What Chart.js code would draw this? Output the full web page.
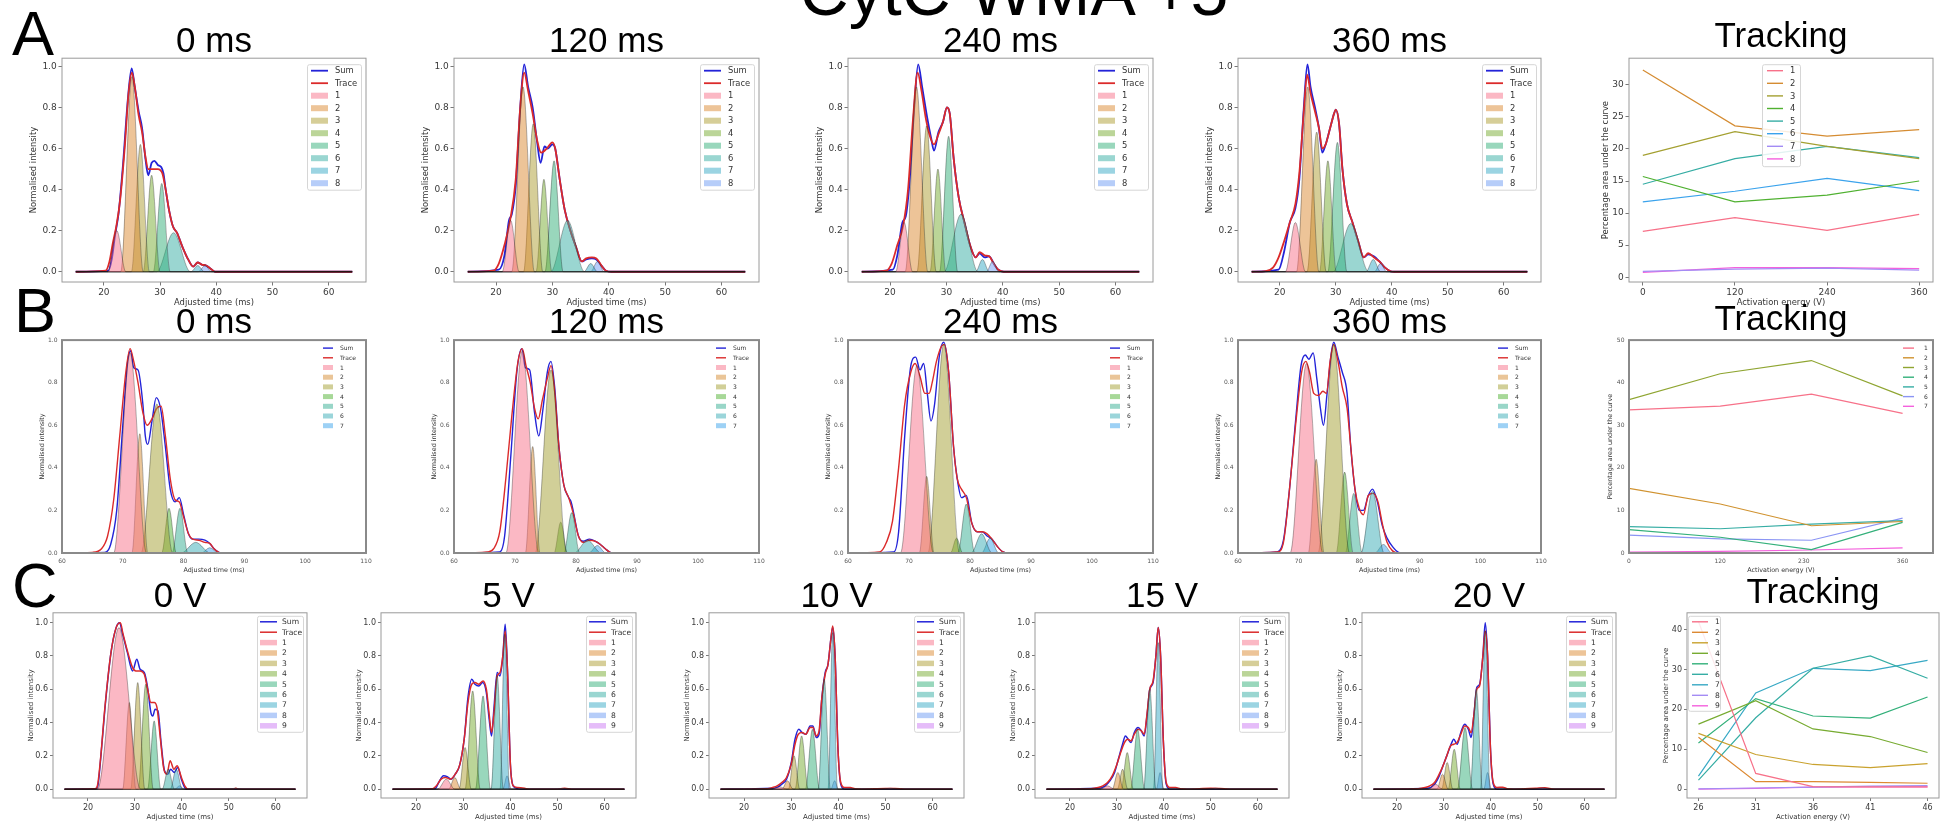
<!DOCTYPE html>
<html>
<head>
<meta charset="utf-8">
<script src="https://cdn.jsdelivr.net/npm/chart.js@4.4.0/dist/chart.umd.min.js"></script>
<style>
  body { margin: 0; background: #fff; width: 1948px; height: 824px; overflow: hidden; position: relative; }
  canvas { position: absolute; }
  svg.labels { position: absolute; left: 0; top: 0; pointer-events: none; }
</style>
</head>
<body>
<script>
// ---- palettes ----
const HUSL9 = ['#f77189', '#dc8932', '#ae9d31', '#77ab31', '#33b07a', '#36ada4', '#38a9c5', '#6e9bf4', '#cc7af4'];
const HUSL8 = ['#f77189', '#d58c32', '#a4a031', '#50b131', '#34ae91', '#37abb5', '#3ba3ec', '#bb83f4'];
const TRACK_A_COLORS = ['#f77189', '#d58c32', '#a4a031', '#50b131', '#36ada4', '#3ba3ec', '#a38cf4', '#f461dd'];
const TRACK_B_COLORS = ['#f77189', '#d0922f', '#8fa531', '#33b07a', '#36ada4', '#8b95f4', '#f461dd'];
const TRACK_C_COLORS = ['#f77189', '#dc8932', '#c9a22e', '#77ab31', '#33b07a', '#36ada4', '#38a9c5', '#a48cf4', '#f461dd'];
const SUM_COLOR = '#2323d8';
const TRACE_COLOR = '#db2a2a';

// ---- axis ranges and ticks ----
const RANGE_AC = [15, 64.2];
const RANGE_B = [60, 110];
const XTICKS_AC = [20, 30, 40, 50, 60];
const XTICKS_B = [60, 70, 80, 90, 100, 110];
const YTICKS_NORM = [0, 0.2, 0.4, 0.6, 0.8, 1.0];

const TITLES_A = ['0 ms', '120 ms', '240 ms', '360 ms'];
const TITLES_B = ['0 ms', '120 ms', '240 ms', '360 ms'];
const TITLES_C = ['0 V', '5 V', '10 V', '15 V', '20 V'];

// ---- fitted components: [centre, height, half-width] ----
const PEAKS_A0 = [[22.3,0.2,1.6],[25.0,0.95,2.0],[26.5,0.62,1.6],[28.5,0.47,1.5],[30.3,0.43,1.5],[32.4,0.19,3.0],[36.7,0.03,1.2],[38.0,0.03,1.2]];
const PEAKS_A1 = [[22.6,0.25,1.5],[24.8,0.9,2.0],[26.6,0.72,1.7],[28.5,0.45,1.4],[30.3,0.54,1.6],[32.7,0.25,3.0],[36.8,0.04,1.2],[38.0,0.05,1.2]];
const PEAKS_A2 = [[22.5,0.24,1.5],[24.7,0.9,2.0],[26.5,0.71,1.7],[28.5,0.5,1.4],[30.4,0.66,1.6],[32.6,0.28,3.0],[36.4,0.06,1.2],[38.2,0.05,1.1]];
const PEAKS_A3 = [[22.8,0.24,1.8],[25.0,0.9,2.0],[26.6,0.68,1.7],[28.6,0.54,1.5],[30.3,0.63,1.7],[32.7,0.235,3.2],[36.7,0.06,1.3],[38.0,0.04,1.1]];

const PEAKS_B0 = [[71.2,0.94,2.7],[72.8,0.56,1.3],[75.6,0.70,2.6],[77.6,0.21,1.2],[79.4,0.21,1.3],[82.0,0.05,2.4],[84.3,0.025,1.4]];
const PEAKS_B1 = [[71.2,0.95,2.7],[72.9,0.5,1.2],[75.9,0.86,2.6],[77.5,0.145,1.1],[79.3,0.19,1.3],[81.9,0.06,2.2],[83.5,0.035,1.4]];
const PEAKS_B2 = [[71.3,0.88,2.7],[72.9,0.36,1.2],[75.7,0.98,2.6],[77.8,0.07,1.0],[79.4,0.23,1.4],[81.9,0.09,1.7],[83.3,0.07,1.4]];
const PEAKS_B3 = [[71.3,0.89,2.7],[72.9,0.44,1.3],[75.8,0.98,2.6],[77.6,0.38,1.4],[79.1,0.28,1.4],[82.2,0.29,1.9],[84.0,0.04,1.4]];

const PEAKS_C0 = [[26.6,0.97,4.6],[28.8,0.52,1.4],[30.6,0.64,1.5],[32.3,0.63,1.6],[34.1,0.41,1.4],[37.1,0.12,1.3],[38.8,0.12,1.3],[39.5,0.02,1.0],[51.4,0.006,1.5]];
const PEAKS_C1 = [[26.4,0.06,1.8],[28.2,0.07,1.3],[30.4,0.25,1.3],[32.0,0.59,1.6],[34.2,0.56,1.6],[37.2,0.68,1.3],[38.8,0.93,1.0],[39.3,0.08,0.9],[51.0,0.005,2.0]];
const PEAKS_C2 = [[27.5,0.015,1.5],[29.2,0.05,1.2],[30.6,0.2,1.2],[32.2,0.32,1.4],[34.5,0.36,1.5],[37.0,0.66,1.3],[38.8,0.94,1.0],[39.2,0.05,0.8],[51.0,0.006,2.0]];
const PEAKS_C3 = [[28.0,0.02,1.5],[30.2,0.1,1.2],[31.2,0.12,1.1],[32.2,0.22,1.3],[34.4,0.36,1.5],[37.0,0.6,1.3],[38.8,0.88,1.0],[39.2,0.1,0.8],[51.0,0.006,2.0]];
const PEAKS_C4 = [[28.2,0.03,1.5],[29.7,0.09,1.2],[30.7,0.16,1.2],[32.2,0.24,1.3],[34.5,0.37,1.6],[36.9,0.6,1.3],[38.8,0.95,1.0],[39.3,0.1,0.8],[51.0,0.008,2.0]];

// ---- measured traces and fitted sums: [time, intensity] ----
const TRACE_A0 = [[15,0],[20.3,0.005],[21.0,0.05],[21.6,0.14],[22.2,0.22],[22.9,0.35],[23.7,0.6],[24.4,0.87],[25.0,0.97],[25.5,0.9],[26.2,0.76],[26.8,0.68],[27.4,0.56],[27.9,0.5],[28.7,0.5],[29.6,0.5],[30.4,0.48],[31.0,0.4],[31.6,0.3],[32.3,0.22],[33.0,0.19],[34.0,0.12],[35.0,0.06],[35.9,0.025],[36.7,0.045],[37.4,0.035],[38.2,0.03],[39.0,0.015],[39.8,0],[64.2,0]];
const SUM_A0 = [[15,0],[20.8,0.005],[21.4,0.06],[22.0,0.18],[22.6,0.28],[23.4,0.52],[24.3,0.85],[24.95,0.99],[25.5,0.9],[26.2,0.78],[26.8,0.7],[27.4,0.55],[27.9,0.47],[28.5,0.53],[29.0,0.54],[29.6,0.52],[30.2,0.51],[30.6,0.48],[31.0,0.4],[31.6,0.3],[32.3,0.22],[33.0,0.19],[34.0,0.12],[35.0,0.06],[35.9,0.025],[36.7,0.045],[37.4,0.035],[38.2,0.03],[39.0,0.015],[39.8,0],[64.2,0]];
const TRACE_A1 = [[15,0],[19.5,0.005],[20.5,0.04],[21.5,0.13],[22.5,0.25],[23.5,0.45],[24.3,0.8],[25.0,0.97],[25.7,0.88],[26.5,0.77],[27.3,0.64],[28.0,0.58],[29.0,0.6],[30.0,0.63],[30.5,0.6],[31.3,0.45],[32.2,0.3],[33.2,0.2],[34.2,0.12],[35.2,0.05],[36.0,0.065],[37.0,0.07],[37.8,0.065],[38.7,0.03],[39.5,0.005],[40.5,0],[64.2,0]];
const SUM_A1 = [[15,0],[20.5,0.01],[21.5,0.08],[22.3,0.25],[22.8,0.28],[23.5,0.42],[24.3,0.8],[25.0,1.01],[25.7,0.9],[26.5,0.8],[27.3,0.63],[27.9,0.53],[28.6,0.61],[29.2,0.6],[30.0,0.62],[30.5,0.6],[31.3,0.45],[32.2,0.3],[33.2,0.2],[34.2,0.12],[35.2,0.05],[36.0,0.06],[37.0,0.065],[37.8,0.06],[38.7,0.03],[39.5,0.005],[40.5,0],[64.2,0]];
const TRACE_A2 = [[15,0],[19.3,0.005],[20.3,0.04],[21.3,0.13],[22.3,0.22],[23.2,0.4],[24.1,0.75],[24.9,0.97],[25.6,0.88],[26.4,0.74],[27.2,0.65],[27.8,0.62],[28.6,0.67],[29.4,0.73],[30.1,0.8],[30.6,0.77],[31.3,0.55],[32.2,0.36],[33.2,0.24],[34.2,0.13],[35.2,0.07],[35.9,0.095],[36.8,0.08],[37.6,0.075],[38.4,0.04],[39.2,0.01],[40.2,0],[64.2,0]];
const SUM_A2 = [[15,0],[20.5,0.01],[21.3,0.08],[22.2,0.24],[22.8,0.27],[23.5,0.45],[24.3,0.8],[25.0,1.01],[25.7,0.9],[26.6,0.75],[27.3,0.65],[27.8,0.59],[28.6,0.68],[29.4,0.73],[30.1,0.8],[30.6,0.77],[31.3,0.55],[32.2,0.36],[33.2,0.24],[34.2,0.13],[35.2,0.07],[35.9,0.09],[36.8,0.07],[37.6,0.075],[38.4,0.04],[39.2,0.01],[40.2,0],[64.2,0]];
const TRACE_A3 = [[15,0],[17.5,0.003],[18.8,0.02],[19.8,0.07],[20.8,0.15],[21.8,0.24],[22.8,0.33],[23.5,0.48],[24.3,0.78],[24.9,0.96],[25.5,0.87],[26.3,0.78],[27.0,0.7],[27.6,0.6],[28.2,0.62],[29.0,0.7],[29.7,0.77],[30.0,0.79],[30.6,0.72],[31.2,0.5],[32.0,0.33],[33.0,0.24],[34.0,0.15],[35.0,0.07],[35.8,0.09],[36.8,0.07],[37.8,0.05],[38.8,0.02],[39.8,0.002],[40.5,0],[64.2,0]];
const SUM_A3 = [[15,0],[19.8,0.01],[20.8,0.1],[21.8,0.24],[22.8,0.31],[23.5,0.45],[24.3,0.8],[24.95,1.01],[25.5,0.9],[26.3,0.8],[27.0,0.7],[27.6,0.58],[28.2,0.62],[29.0,0.7],[29.7,0.77],[30.0,0.79],[30.6,0.72],[31.2,0.5],[32.0,0.33],[33.0,0.24],[34.0,0.15],[35.0,0.07],[35.8,0.085],[36.8,0.075],[37.8,0.05],[38.8,0.02],[39.8,0.002],[40.5,0],[64.2,0]];

const TRACE_B0 = [[60,0],[65,0.003],[66.5,0.02],[67.5,0.08],[68.5,0.25],[69.5,0.55],[70.5,0.85],[71.2,0.96],[71.8,0.9],[72.5,0.8],[73.3,0.66],[74.0,0.6],[74.8,0.63],[75.6,0.68],[76.3,0.69],[77.0,0.55],[77.8,0.35],[78.6,0.25],[79.3,0.24],[80.0,0.17],[80.8,0.09],[81.5,0.065],[82.5,0.06],[83.5,0.05],[84.3,0.045],[85.0,0.02],[85.8,0.003],[86.5,0],[110,0]];
const SUM_B0 = [[60,0],[67,0.002],[68,0.04],[69,0.2],[70,0.6],[70.8,0.9],[71.3,0.95],[71.8,0.87],[72.5,0.86],[73.3,0.7],[73.7,0.55],[74.1,0.51],[74.8,0.62],[75.5,0.73],[76.2,0.68],[77.0,0.5],[77.8,0.3],[78.6,0.24],[79.3,0.26],[80.0,0.18],[80.8,0.09],[81.5,0.065],[82.5,0.065],[83.5,0.06],[84.3,0.045],[85.0,0.02],[85.8,0.003],[86.5,0],[110,0]];
const TRACE_B1 = [[60,0],[65.5,0.005],[66.5,0.02],[67.5,0.1],[68.5,0.35],[69.5,0.65],[70.5,0.9],[71.2,0.96],[71.8,0.88],[72.5,0.8],[73.2,0.68],[73.8,0.63],[74.5,0.72],[75.3,0.82],[75.9,0.88],[76.5,0.76],[77.2,0.5],[78.0,0.32],[78.8,0.26],[79.6,0.18],[80.4,0.08],[81.2,0.05],[82.2,0.06],[83.2,0.055],[84.0,0.04],[84.8,0.02],[85.6,0.003],[86.5,0],[110,0]];
const SUM_B1 = [[60,0],[67.5,0.005],[68.3,0.08],[69.3,0.45],[70.3,0.85],[71.1,0.96],[71.7,0.87],[72.4,0.86],[73.2,0.66],[73.9,0.55],[74.6,0.68],[75.3,0.85],[75.9,0.9],[76.5,0.78],[77.2,0.5],[78.0,0.32],[78.8,0.26],[79.2,0.24],[79.6,0.19],[80.4,0.08],[81.2,0.055],[82.2,0.065],[83.2,0.055],[84.0,0.04],[84.8,0.02],[85.6,0.003],[86.5,0],[110,0]];
const TRACE_B2 = [[60,0],[65.2,0.005],[66.3,0.05],[67.3,0.15],[68.3,0.4],[69.3,0.7],[70.3,0.85],[71.0,0.89],[71.8,0.83],[72.6,0.75],[73.3,0.75],[73.8,0.8],[74.5,0.9],[75.3,0.97],[75.8,0.98],[76.5,0.85],[77.3,0.5],[77.9,0.35],[78.6,0.3],[79.4,0.26],[80.3,0.14],[81.2,0.1],[82.0,0.1],[82.8,0.09],[83.6,0.065],[84.5,0.03],[85.4,0.005],[86.3,0],[110,0]];
const SUM_B2 = [[60,0],[67.5,0.005],[68.3,0.1],[69.3,0.55],[70.3,0.88],[71.1,0.92],[71.8,0.86],[72.4,0.89],[73.0,0.75],[73.6,0.62],[74.2,0.7],[75.0,0.93],[75.7,0.99],[76.5,0.85],[77.3,0.5],[77.9,0.35],[78.6,0.26],[79.4,0.27],[80.3,0.14],[81.2,0.1],[82.0,0.1],[82.8,0.08],[83.6,0.065],[84.5,0.03],[85.4,0.005],[86.3,0],[110,0]];
const TRACE_B3 = [[60,0],[66.5,0.005],[67.5,0.05],[68.5,0.3],[69.5,0.6],[70.5,0.85],[71.2,0.9],[71.8,0.85],[72.5,0.75],[73.3,0.74],[74.0,0.76],[74.6,0.75],[75.2,0.9],[75.8,0.98],[76.5,0.9],[77.2,0.78],[78.0,0.68],[78.6,0.5],[79.3,0.3],[80.0,0.21],[80.7,0.18],[81.5,0.27],[82.3,0.28],[83.1,0.24],[83.8,0.14],[84.6,0.05],[85.5,0.01],[86.5,0],[110,0]];
const SUM_B3 = [[60,0],[66.5,0.005],[67.5,0.06],[68.5,0.3],[69.5,0.62],[70.4,0.88],[71.1,0.93],[71.7,0.91],[72.4,0.94],[73.0,0.82],[73.6,0.68],[74.1,0.6],[74.7,0.75],[75.4,0.94],[75.8,0.99],[76.5,0.92],[77.2,0.85],[78.0,0.75],[78.6,0.5],[79.3,0.3],[80.0,0.2],[80.7,0.2],[81.5,0.27],[82.2,0.3],[83.0,0.24],[83.8,0.13],[84.6,0.07],[85.5,0.03],[86.5,0.003],[87.2,0],[110,0]];

const TRACE_C0 = [[15,0],[21.5,0.003],[22.0,0.02],[22.7,0.19],[23.6,0.49],[24.9,0.82],[26.0,0.97],[26.9,1.0],[27.4,0.94],[28.4,0.83],[29.5,0.73],[30.2,0.71],[31.1,0.71],[32.0,0.69],[32.7,0.6],[33.4,0.52],[34.1,0.52],[34.7,0.49],[35.4,0.31],[36.1,0.13],[36.8,0.09],[37.5,0.17],[38.3,0.12],[39.0,0.14],[39.9,0.07],[40.7,0.016],[41.3,0],[51.0,0],[51.5,0.006],[52.0,0],[64.2,0]];
const SUM_C0 = [[15,0],[21.6,0.003],[22.1,0.02],[22.7,0.18],[23.6,0.48],[24.9,0.82],[26.0,0.97],[26.7,1.0],[27.4,0.93],[28.4,0.82],[29.5,0.71],[30.4,0.78],[31.1,0.72],[32.0,0.7],[32.7,0.61],[33.4,0.46],[33.8,0.44],[34.3,0.48],[34.9,0.47],[35.6,0.27],[36.3,0.11],[37.0,0.09],[37.6,0.12],[38.4,0.1],[39.1,0.13],[40.0,0.05],[40.9,0],[64.2,0]];
const TRACE_C1 = [[15,0],[23.5,0.003],[24.3,0.02],[25.3,0.06],[26.3,0.07],[27.3,0.06],[28.3,0.09],[29.3,0.15],[30.2,0.3],[31.0,0.52],[31.8,0.63],[32.5,0.64],[33.3,0.63],[34.2,0.65],[34.9,0.6],[35.5,0.45],[36.0,0.34],[36.5,0.45],[37.2,0.68],[37.8,0.7],[38.4,0.8],[38.9,0.95],[39.4,0.7],[40.0,0.15],[40.6,0.02],[41.5,0.01],[43.0,0.005],[44.0,0],[50.0,0],[51.5,0.005],[53.0,0],[64.2,0]];
const SUM_C1 = [[15,0],[24.0,0.003],[24.8,0.04],[25.8,0.08],[26.6,0.075],[27.4,0.06],[28.3,0.09],[29.2,0.14],[30.2,0.3],[31.0,0.55],[31.8,0.66],[32.5,0.63],[33.3,0.62],[34.1,0.64],[34.9,0.58],[35.5,0.42],[36.0,0.32],[36.5,0.48],[37.2,0.7],[37.8,0.68],[38.4,0.8],[38.9,0.99],[39.4,0.7],[40.0,0.15],[40.6,0.02],[41.5,0.003],[42.0,0],[64.2,0]];
const TRACE_C2 = [[15,0],[25.0,0.003],[26.0,0.01],[27.0,0.02],[28.0,0.04],[29.0,0.07],[30.0,0.15],[30.8,0.27],[31.5,0.33],[32.3,0.34],[33.1,0.33],[34.0,0.37],[34.6,0.37],[35.3,0.32],[35.9,0.35],[36.5,0.55],[37.2,0.69],[37.8,0.75],[38.4,0.9],[38.8,0.98],[39.3,0.8],[39.9,0.25],[40.5,0.04],[41.3,0.01],[42.5,0.01],[43.5,0.003],[45.0,0],[50.0,0.004],[52.0,0.004],[54.0,0],[64.2,0]];
const SUM_C2 = [[15,0],[26.0,0.005],[27.0,0.01],[28.0,0.03],[29.0,0.06],[30.0,0.16],[30.8,0.3],[31.6,0.36],[32.3,0.34],[33.1,0.33],[34.0,0.38],[34.6,0.38],[35.3,0.31],[35.9,0.33],[36.5,0.55],[37.2,0.7],[37.8,0.75],[38.4,0.9],[38.8,0.97],[39.3,0.8],[39.9,0.25],[40.5,0.03],[41.3,0],[64.2,0]];
const TRACE_C3 = [[15,0],[24.5,0.003],[26.0,0.01],[27.0,0.02],[28.0,0.04],[29.0,0.08],[30.0,0.15],[30.8,0.22],[31.6,0.28],[32.3,0.3],[33.0,0.29],[33.7,0.33],[34.5,0.36],[35.2,0.35],[35.8,0.33],[36.4,0.45],[37.0,0.6],[37.7,0.65],[38.3,0.8],[38.8,0.97],[39.3,0.8],[39.9,0.28],[40.5,0.04],[41.3,0.01],[42.5,0.01],[43.5,0.003],[45.0,0],[50.0,0.005],[52.0,0.004],[54.0,0],[64.2,0]];
const SUM_C3 = [[15,0],[26.0,0.005],[27.5,0.02],[28.5,0.05],[29.5,0.1],[30.3,0.18],[31.2,0.27],[31.8,0.32],[32.4,0.3],[33.0,0.28],[33.7,0.34],[34.5,0.37],[35.2,0.35],[35.8,0.32],[36.4,0.44],[37.0,0.6],[37.7,0.64],[38.3,0.8],[38.8,0.97],[39.3,0.8],[39.9,0.28],[40.5,0.03],[41.3,0],[64.2,0]];
const TRACE_C4 = [[15,0],[24.5,0.003],[26.0,0.01],[27.0,0.02],[28.0,0.04],[29.0,0.09],[29.8,0.14],[30.6,0.2],[31.4,0.26],[32.1,0.27],[32.8,0.28],[33.6,0.33],[34.4,0.38],[35.2,0.37],[35.8,0.34],[36.4,0.45],[37.0,0.6],[37.6,0.62],[38.3,0.8],[38.8,0.95],[39.3,0.8],[39.9,0.25],[40.5,0.04],[41.3,0.01],[42.5,0.012],[43.5,0.003],[45.0,0],[49.5,0.005],[51.5,0.008],[53.5,0],[64.2,0]];
const SUM_C4 = [[15,0],[26.5,0.005],[28.0,0.03],[29.0,0.08],[29.8,0.14],[30.6,0.2],[31.4,0.26],[32.1,0.3],[32.8,0.27],[33.6,0.34],[34.4,0.39],[35.2,0.36],[35.8,0.31],[36.4,0.45],[37.0,0.61],[37.6,0.63],[38.3,0.8],[38.8,1.0],[39.3,0.8],[39.9,0.25],[40.5,0.03],[41.3,0],[64.2,0]];

// ---- tracking: percentage area under the curve per component ----
const TRACK_A_X = [0, 120, 240, 360];
const TRACK_A = [
  [7.15, 9.3, 7.3, 9.8],
  [32.3, 23.6, 22.0, 23.0],
  [19.0, 22.7, 20.4, 18.5],
  [15.7, 11.75, 12.8, 15.0],
  [14.5, 18.5, 20.4, 18.65],
  [11.75, 13.4, 15.4, 13.5],
  [0.9, 1.25, 1.4, 1.1],
  [0.75, 1.5, 1.5, 1.35]
];
const TRACK_A_TICKS = [0, 120, 240, 360];

const TRACK_B_X = [0, 120, 240, 360];
const TRACK_B = [
  [33.6, 34.5, 37.3, 32.8],
  [15.2, 11.5, 6.4, 7.4],
  [36.0, 42.1, 45.2, 36.9],
  [5.5, 3.7, 0.8, 7.2],
  [6.2, 5.7, 6.8, 7.6],
  [4.2, 3.3, 3.0, 8.2],
  [0.2, 0.4, 0.7, 1.2]
];
const TRACK_B_TICKS = [0, 120, 230, 360];

const TRACK_C_X = [26, 31, 36, 41, 46];
const TRACK_C = [
  [42.0, 3.95, 0.65, 0.6, 0.6],
  [13.0, 1.9, 1.9, 1.7, 1.5],
  [14.0, 8.7, 6.2, 5.4, 6.4],
  [16.3, 22.2, 15.1, 13.2, 9.2],
  [11.6, 22.7, 18.35, 17.8, 23.1],
  [2.3, 17.9, 30.3, 33.4, 27.8],
  [3.3, 24.1, 30.3, 29.7, 32.3],
  [0.1, 0.3, 0.5, 0.8, 0.9],
  [0.0, 0.2, 0.5, 0.6, 0.6]
];
const TRACK_C_TICKS = [26, 31, 36, 41, 46];

// ---- layout (plot-area boxes in page pixels) ----
const COLS_AB = [[62, 366], [454, 759], [848, 1153], [1238, 1541], [1629, 1933]];
const COLS_C = [[53, 307], [381, 636], [709, 964], [1035, 1289], [1362, 1616], [1687, 1939]];

const ROW = {
  A: { top: 55, bottom: 282, ymin: -0.05, ymax: 1.04, pad: { l: 45, t: 4, r: 12, b: 30 },
       tick: 9, tickColor: '#3a3a3a', axisFont: 8.4, yTitlePad: 12, xTitlePad: 3.9,
       tickLen: 3.5, tickPad: 1.8, frame: { color: '#9a9a9a', width: 1 }, lineW: 1.8,
       legend: { size: 8.4, rowH: 12.5, frame: true, w: 54, h: 125, dx: 5, dy: 6, first: 6.5, sx: 4, sw: 17, tx: 28, ph: 6 },
       titleBase: 51.5, trackBase: 47 },
  B: { top: 338, bottom: 553, ymin: 0, ymax: 1, pad: { l: 40, t: 6, r: 12, b: 26 },
       tick: 6, tickColor: '#555', axisFont: 6.4, yTitlePad: 16.3, xTitlePad: 4.4,
       tickLen: 0, tickPad: 4.5, frame: { color: '#8a8a8a', width: 2 }, lineW: 1.4,
       legend: { size: 6, rowH: 9.7, frame: false, w: 46, h: 80, dx: 0, dy: 3, first: 5, sx: 3, sw: 10, tx: 20, ph: 5 },
       titleBase: 333, trackBase: 330 },
  C: { top: 610, bottom: 798, ymin: -0.053, ymax: 1.059, pad: { l: 40, t: 4, r: 12, b: 28 },
       tick: 8, tickColor: '#3a3a3a', axisFont: 7, yTitlePad: 13.8, xTitlePad: 5.1,
       tickLen: 3, tickPad: 2, frame: { color: '#9a9a9a', width: 1 }, lineW: 1.5,
       legend: { size: 7.6, rowH: 10.4, frame: true, w: 46, h: 116, dx: 4, dy: 3, first: 6, sx: 3, sw: 17, tx: 25, ph: 5.5 },
       titleBase: 607, trackBase: 603 }
};

const FONT = 'DejaVu Sans, Verdana, sans-serif';

function rgba(hex, a) {
  const n = parseInt(hex.slice(1), 16);
  return `rgba(${n >> 16},${(n >> 8) & 255},${n & 255},${a})`;
}

function toXY(pairs) {
  return pairs.map(p => ({ x: p[0], y: p[1] }));
}

// a fitted component as a smooth bump between its two feet
function peakPoints(peak, range) {
  const [c, h, w] = peak;
  return [{ x: range[0], y: 0 }, { x: c - w, y: 0 }, { x: c, y: h }, { x: c + w, y: 0 }, { x: range[1], y: 0 }];
}

const framePlugin = {
  id: 'frame',
  afterDatasetsDraw(chart, args, o) {
    const { ctx, chartArea: a } = chart;
    ctx.save();
    ctx.strokeStyle = o.color;
    ctx.lineWidth = o.width;
    ctx.strokeRect(a.left, a.top, a.right - a.left, a.bottom - a.top);
    ctx.restore();
  }
};

const insetLegend = {
  id: 'insetLegend',
  afterDraw(chart, args, o) {
    if (!o.items) return;
    const { ctx, chartArea: a } = chart;
    let x0;
    if (o.anchor === 'left') x0 = a.left + o.dx;
    else if (o.anchor === 'center') x0 = (a.left + a.right) / 2 - o.w / 2;
    else x0 = a.right - o.dx - o.w;
    const y0 = a.top + o.dy;
    ctx.save();
    if (o.frame) {
      ctx.fillStyle = 'rgba(255,255,255,0.85)';
      ctx.strokeStyle = '#d6d6d6';
      ctx.lineWidth = 1;
      ctx.beginPath();
      ctx.roundRect(x0 + 0.5, y0 + 0.5, o.w, o.h, 2);
      ctx.fill();
      ctx.stroke();
    }
    ctx.font = `${o.size}px ${FONT}`;
    ctx.textBaseline = 'middle';
    o.items.forEach((it, i) => {
      const y = y0 + o.first + i * o.rowH;
      if (it.patch) {
        ctx.fillStyle = it.color;
        ctx.fillRect(x0 + o.sx, y - o.ph / 2, o.sw, o.ph);
      } else {
        ctx.strokeStyle = it.color;
        ctx.lineWidth = o.lw || 1.6;
        ctx.beginPath();
        ctx.moveTo(x0 + o.sx, y);
        ctx.lineTo(x0 + o.sx + o.sw, y);
        ctx.stroke();
      }
      ctx.fillStyle = '#333';
      ctx.fillText(it.label, x0 + o.tx, y + 0.5);
    });
    ctx.restore();
  }
};

function makeCanvas(col, st) {
  const p = st.pad;
  const w = col[1] - col[0] + p.l + p.r;
  const h = st.bottom - st.top + p.t + p.b;
  const cv = document.createElement('canvas');
  cv.width = w;
  cv.height = h;
  cv.style.left = (col[0] - p.l) + 'px';
  cv.style.top = (st.top - p.t) + 'px';
  cv.style.width = w + 'px';
  cv.style.height = h + 'px';
  document.body.appendChild(cv);
  return cv;
}

function axisOptions(st, o) {
  const gridOpt = st.tickLen > 0
    ? { drawOnChartArea: false, drawTicks: true, tickLength: st.tickLen, color: '#555', lineWidth: 0.8 }
    : { drawOnChartArea: false, drawTicks: false };
  return {
    x: {
      type: 'linear', min: o.xmin, max: o.xmax,
      afterFit: s => { s.height = st.pad.b; },
      afterBuildTicks: s => { s.ticks = o.xticks.map(v => ({ value: v })); },
      grid: gridOpt, border: { display: false },
      ticks: { font: { family: FONT, size: st.tick }, color: st.tickColor, padding: st.tickPad,
               maxRotation: 0, autoSkip: false, callback: v => String(v) },
      title: { display: true, text: o.xtitle, color: '#333', font: { family: FONT, size: st.axisFont },
               padding: { top: 0, bottom: st.xTitlePad } }
    },
    y: {
      type: 'linear', min: o.ymin, max: o.ymax,
      afterFit: s => { s.width = st.pad.l; },
      afterBuildTicks: s => { s.ticks = o.yticks.map(v => ({ value: v })); },
      grid: gridOpt, border: { display: false },
      ticks: { font: { family: FONT, size: st.tick }, color: st.tickColor, padding: st.tickPad,
               autoSkip: false, callback: o.yfmt },
      title: { display: true, text: o.ytitle, color: '#333', font: { family: FONT, size: st.axisFont },
               padding: { top: o.yTitlePad != null ? o.yTitlePad : st.yTitlePad, bottom: 0 } }
    }
  };
}

function peakPanel(col, st, peaks, trace, sum, palette, range) {
  const cv = makeCanvas(col, st);
  // components sit above the two curves, so their dark outlines form the baseline
  const datasets = peaks.map((pk, i) => ({
    data: peakPoints(pk, range),
    borderColor: 'rgba(20,20,20,0.55)', borderWidth: 0.6,
    backgroundColor: rgba(palette[i], 0.5), fill: 'origin',
    cubicInterpolationMode: 'monotone', order: i
  }));
  datasets.push({ data: toXY(sum), borderColor: SUM_COLOR, borderWidth: st.lineW, fill: false,
                  cubicInterpolationMode: 'monotone', order: 21 });
  datasets.push({ data: toXY(trace), borderColor: TRACE_COLOR, borderWidth: st.lineW, fill: false,
                  cubicInterpolationMode: 'monotone', order: 20 });
  const items = [{ label: 'Sum', color: SUM_COLOR }, { label: 'Trace', color: TRACE_COLOR }]
    .concat(peaks.map((_, i) => ({ label: String(i + 1), color: rgba(palette[i], 0.5), patch: true })));
  const isB = range === RANGE_B;
  const lg = Object.assign({}, st.legend, { items, anchor: 'right', lw: st.lineW });
  if (!isB) lg.h = st.legend.first * 2 + (items.length - 1) * st.legend.rowH;
  new Chart(cv, {
    type: 'line',
    data: { datasets },
    options: {
      responsive: false, animation: false, devicePixelRatio: 1,
      layout: { padding: { left: 0, top: st.pad.t, right: st.pad.r, bottom: 0 } },
      elements: { point: { radius: 0 } },
      plugins: { legend: { display: false }, tooltip: { enabled: false }, frame: st.frame, insetLegend: lg },
      scales: axisOptions(st, {
        xmin: isB ? 60 : 12.55, xmax: isB ? 110 : 66.65, xticks: isB ? XTICKS_B : XTICKS_AC,
        ymin: st.ymin, ymax: st.ymax, yticks: YTICKS_NORM, yfmt: v => v.toFixed(1),
        xtitle: 'Adjusted time (ms)', ytitle: 'Normalised intensity'
      })
    },
    plugins: [framePlugin, insetLegend]
  });
}

function trackPanel(col, st, xs, series, colors, o) {
  const cv = makeCanvas(col, st);
  const datasets = series.map((vals, i) => ({
    data: vals.map((v, j) => ({ x: xs[j], y: v })),
    borderColor: colors[i], borderWidth: 1.2, fill: false, tension: 0, order: i
  }));
  const items = series.map((_, i) => ({ label: String(i + 1), color: colors[i] }));
  const lg = Object.assign({}, st.legend, o.legend, { items, lw: 1.4 });
  new Chart(cv, {
    type: 'line',
    data: { datasets },
    options: {
      responsive: false, animation: false, devicePixelRatio: 1,
      layout: { padding: { left: 0, top: st.pad.t, right: st.pad.r, bottom: 0 } },
      elements: { point: { radius: 0 } },
      plugins: { legend: { display: false }, tooltip: { enabled: false }, frame: st.frame, insetLegend: lg },
      scales: axisOptions(st, {
        xmin: o.xmin, xmax: o.xmax, xticks: o.xticks, ymin: o.ymin, ymax: o.ymax,
        yticks: o.yticks, yfmt: v => String(v), yTitlePad: o.yTitlePad,
        xtitle: 'Activation energy (V)', ytitle: 'Percentage area under the curve'
      })
    },
    plugins: [framePlugin, insetLegend]
  });
}

// ---- row A ----
[PEAKS_A0, PEAKS_A1, PEAKS_A2, PEAKS_A3].forEach((pk, i) => {
  const tr = [TRACE_A0, TRACE_A1, TRACE_A2, TRACE_A3][i];
  const sm = [SUM_A0, SUM_A1, SUM_A2, SUM_A3][i];
  peakPanel(COLS_AB[i], ROW.A, pk, tr, sm, HUSL9, RANGE_AC);
});
trackPanel(COLS_AB[4], ROW.A, TRACK_A_X, TRACK_A, TRACK_A_COLORS, {
  xmin: -18, xmax: 378, xticks: TRACK_A_TICKS, ymin: -0.75, ymax: 34.15, yticks: [0, 5, 10, 15, 20, 25, 30],
  yTitlePad: 16.5,
  legend: { anchor: 'center', w: 38, h: 102, dy: 6, first: 6.5, rowH: 12.6, sx: 5, sw: 16, tx: 28 }
});

// ---- row B ----
[PEAKS_B0, PEAKS_B1, PEAKS_B2, PEAKS_B3].forEach((pk, i) => {
  const tr = [TRACE_B0, TRACE_B1, TRACE_B2, TRACE_B3][i];
  const sm = [SUM_B0, SUM_B1, SUM_B2, SUM_B3][i];
  peakPanel(COLS_AB[i], ROW.B, pk, tr, sm, HUSL8, RANGE_B);
});
trackPanel(COLS_AB[4], ROW.B, TRACK_B_X, TRACK_B, TRACK_B_COLORS, {
  xmin: 0, xmax: 400, xticks: TRACK_B_TICKS, ymin: 0, ymax: 50, yticks: [0, 10, 20, 30, 40, 50],
  yTitlePad: 17.2,
  legend: { anchor: 'right', w: 30, dx: 0, dy: 3, first: 5, rowH: 9.7, sx: 0, sw: 11, tx: 21 }
});

// ---- row C ----
[PEAKS_C0, PEAKS_C1, PEAKS_C2, PEAKS_C3, PEAKS_C4].forEach((pk, i) => {
  const tr = [TRACE_C0, TRACE_C1, TRACE_C2, TRACE_C3, TRACE_C4][i];
  const sm = [SUM_C0, SUM_C1, SUM_C2, SUM_C3, SUM_C4][i];
  peakPanel(COLS_C[i], ROW.C, pk, tr, sm, HUSL9, RANGE_AC);
});
trackPanel(COLS_C[5], ROW.C, TRACK_C_X, TRACK_C, TRACK_C_COLORS, {
  xmin: 25.0, xmax: 47.0, xticks: TRACK_C_TICKS, ymin: -2.2, ymax: 44.2, yticks: [0, 10, 20, 30, 40],
  yTitlePad: 14.9,
  legend: { anchor: 'left', w: 32, h: 95, dx: 1, dy: 3, first: 6, rowH: 10.5, sx: 4, sw: 16, tx: 27 }
});

// ---- titles and panel letters ----
const NS = 'http://www.w3.org/2000/svg';
const svg = document.createElementNS(NS, 'svg');
svg.setAttribute('class', 'labels');
svg.setAttribute('width', 1948);
svg.setAttribute('height', 824);
document.body.appendChild(svg);

function text(str, x, y, size, anchor) {
  const t = document.createElementNS(NS, 'text');
  t.setAttribute('x', x);
  t.setAttribute('y', y);
  t.setAttribute('font-family', 'Liberation Sans, Arial, sans-serif');
  t.setAttribute('font-size', size);
  t.setAttribute('text-anchor', anchor || 'middle');
  t.setAttribute('fill', '#000');
  t.textContent = str;
  svg.appendChild(t);
}

const mid = c => (c[0] + c[1]) / 2;
text('CytC WMA +5', 1014, 15, 68);
TITLES_A.forEach((s, i) => text(s, mid(COLS_AB[i]), ROW.A.titleBase, 35));
TITLES_B.forEach((s, i) => text(s, mid(COLS_AB[i]), ROW.B.titleBase, 35));
TITLES_C.forEach((s, i) => text(s, mid(COLS_C[i]), ROW.C.titleBase, 35));
text('Tracking', mid(COLS_AB[4]), ROW.A.trackBase, 35);
text('Tracking', mid(COLS_AB[4]), ROW.B.trackBase, 35);
text('Tracking', mid(COLS_C[5]), ROW.C.trackBase, 35);
text('A', 12, 55, 63, 'start');
text('B', 14, 332, 63, 'start');
text('C', 12, 607, 63, 'start');
</script>
</body>
</html>
